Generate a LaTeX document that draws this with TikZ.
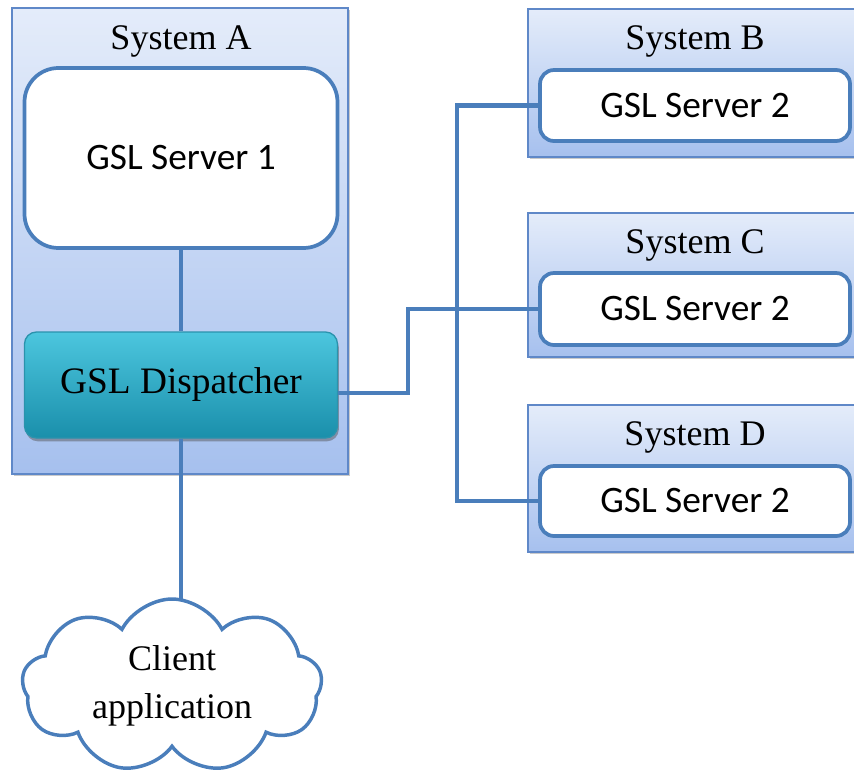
\documentclass[tikz,border=0pt]{standalone}
\usepackage{fontspec}
\setmainfont{Liberation Serif}
\newfontfamily\calib{Carlito}
\usetikzlibrary{shapes.symbols,shadows,calc}
\newdimen\pxu
\pxu=0.75pt
\definecolor{linkblue}{HTML}{4A7EBB}
\definecolor{sysedge}{HTML}{5F88C8}
\definecolor{systop}{HTML}{E4ECFA}
\definecolor{sysbot}{HTML}{A6C0EE}
\definecolor{disptop}{HTML}{4CC6DE}
\definecolor{dispbot}{HTML}{1A8FAB}
\definecolor{dispedge}{HTML}{2A93AD}
\pgfdeclarelayer{bg}
\pgfsetlayers{bg,main}
\tikzset{
  sysbox/.style={draw=sysedge, line width=1.3pt, top color=systop, bottom color=sysbot,
    rectangle, inner sep=0pt,
    drop shadow={shadow xshift=1.2pt, shadow yshift=-1.5pt, opacity=0.35, fill=black!60}},
  systitle/.style={font=\fontsize{27}{30}\selectfont, inner sep=0pt},
  srvbox/.style={draw=linkblue, line width=2.8pt, fill=white, rectangle, inner sep=0pt,
    font=\calib\fontsize{28}{30}\selectfont},
  dispbox/.style={draw=dispedge, line width=1pt, top color=disptop, bottom color=dispbot,
    rectangle, rounded corners=12\pxu, inner sep=0pt,
    font=\fontsize{28}{30}\selectfont,
    drop shadow={shadow xshift=1pt, shadow yshift=-2.5pt, opacity=0.45, fill=black!70}},
  link/.style={draw=linkblue, line width=3.6pt},
  cloudnode/.style={cloud, cloud puffs=9, cloud puff arc=125, aspect=1.75,
    draw=linkblue, line width=2.6pt, fill=white, inner sep=0pt,
    minimum width=300\pxu, minimum height=174\pxu, align=center,
    font=\fontsize{27}{36}\selectfont}
}
\begin{document}
\begin{tikzpicture}[x=0.75pt, y=-0.75pt]
  \useasboundingbox (0,0) rectangle (854,778);

  % System A with its local server and the dispatcher
  \node[sysbox, minimum width=336\pxu, minimum height=466\pxu] (sysA) at (180,241) {};
  \node[systitle] (titleA) at (181,41) {System A};
  \node[srvbox, rounded corners=34\pxu, minimum width=313\pxu, minimum height=180\pxu]
    (srv1) at (181,158) {GSL Server 1};
  \node[dispbox, minimum width=313\pxu, minimum height=106\pxu] (disp) at (181,385) {GSL Dispatcher};

  % Remote systems
  \node[sysbox, minimum width=330\pxu, minimum height=148\pxu] (sysB) at (693,83) {};
  \node[systitle] (titleB) at (695,41) {System B};
  \node[srvbox, rounded corners=14\pxu, minimum width=310\pxu, minimum height=71\pxu]
    (srvB) at (695,105.5) {GSL Server 2};

  \node[sysbox, minimum width=330\pxu, minimum height=144\pxu] (sysC) at (693,285) {};
  \node[systitle] (titleC) at (695,245) {System C};
  \node[srvbox, rounded corners=14\pxu, minimum width=310\pxu, minimum height=72\pxu]
    (srvC) at (695,309) {GSL Server 2};

  \node[sysbox, minimum width=330\pxu, minimum height=147\pxu] (sysD) at (693,478.5) {};
  \node[systitle] (titleD) at (695,437) {System D};
  \node[srvbox, rounded corners=14\pxu, minimum width=310\pxu, minimum height=70\pxu]
    (srvD) at (695,501) {GSL Server 2};

  % Client
  \node[cloudnode] (client) at (172,686) {Client\\application};

  % Connectors
  \draw[link] (srv1.south) -- (disp.north);
  \begin{pgfonlayer}{bg}
    \draw[link] (disp.south) -- (disp.south |- client.center);
  \end{pgfonlayer}
  \draw[link] (disp.south) -- ($(disp.south)!0.5!(disp.south |- client.north)$);

  \coordinate (busTop) at (457,105.5);
  \draw[link] (srvB.west) -- (busTop) -- (busTop |- srvD.west) -- (srvD.west);

  \coordinate (dispOut) at ($(disp.east)+(0,8)$);
  \coordinate (jog) at (408,350);
  \draw[link] (dispOut) -| (jog) |- (srvC.west);
\end{tikzpicture}
\end{document}
